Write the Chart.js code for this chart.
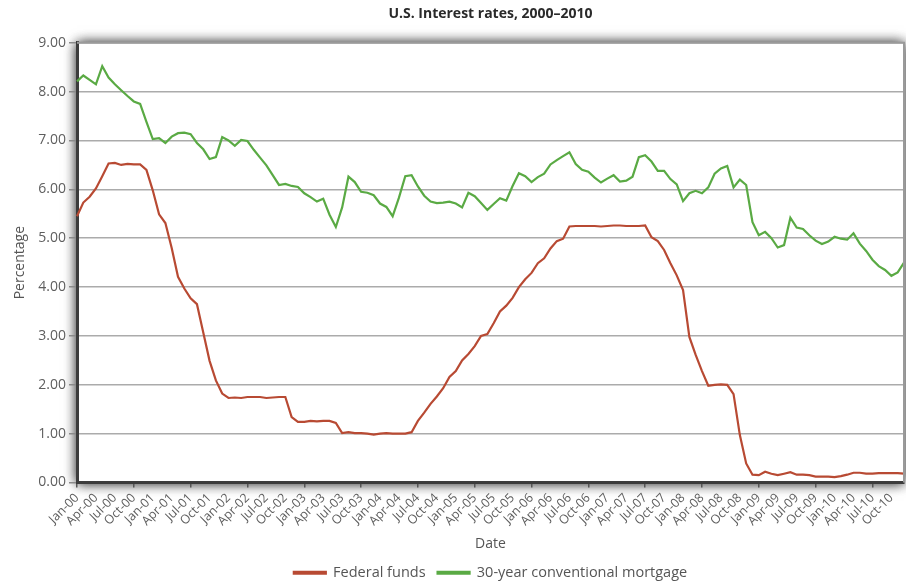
<!DOCTYPE html>
<html lang="en">
<head>
  <meta charset="UTF-8" />
  <title>U.S. Interest rates, 2000–2010</title>
  <script src="https://cdn.jsdelivr.net/npm/chart.js"></script>
  <style>
    html, body { margin: 0; padding: 0; background: #fff; }
    .chart-container { width: 906px; height: 582px; }
  </style>
</head>
<body>
  <div class="chart-container"><canvas id="rateChart"></canvas></div>

  <script>
    // monthly categories Jan-00 .. Dec-10
    const monthNames = ['Jan', 'Feb', 'Mar', 'Apr', 'May', 'Jun', 'Jul', 'Aug', 'Sep', 'Oct', 'Nov', 'Dec'];
    const yearNames = ['00', '01', '02', '03', '04', '05', '06', '07', '08', '09', '10'];
    const labels = [];
    yearNames.forEach(y => monthNames.forEach(m => labels.push(m + '-' + y)));

    const yTicks = [0, 1, 2, 3, 4, 5, 6, 7, 8, 9];

    const fedFunds = [
      5.45, 5.73, 5.85, 6.02, 6.27, 6.53, 6.54, 6.50, 6.52, 6.51, 6.51, 6.40,
      5.98, 5.49, 5.31, 4.80, 4.21, 3.97, 3.77, 3.65, 3.07, 2.49, 2.09, 1.82,
      1.73, 1.74, 1.73, 1.75, 1.75, 1.75, 1.73, 1.74, 1.75, 1.75, 1.34, 1.24,
      1.24, 1.26, 1.25, 1.26, 1.26, 1.22, 1.01, 1.03, 1.01, 1.01, 1.00, 0.98,
      1.00, 1.01, 1.00, 1.00, 1.00, 1.03, 1.26, 1.43, 1.61, 1.76, 1.93, 2.16,
      2.28, 2.50, 2.63, 2.79, 3.00, 3.04, 3.26, 3.50, 3.62, 3.78, 4.00, 4.16,
      4.29, 4.49, 4.59, 4.79, 4.94, 4.99, 5.24, 5.25, 5.25, 5.25, 5.25, 5.24,
      5.25, 5.26, 5.26, 5.25, 5.25, 5.25, 5.26, 5.02, 4.94, 4.76, 4.49, 4.24,
      3.94, 2.98, 2.61, 2.28, 1.98, 2.00, 2.01, 2.00, 1.81, 0.97, 0.39, 0.16,
      0.15, 0.22, 0.18, 0.15, 0.18, 0.21, 0.16, 0.16, 0.15, 0.12, 0.12, 0.12,
      0.11, 0.13, 0.16, 0.20, 0.20, 0.18, 0.18, 0.19, 0.19, 0.19, 0.19, 0.18
    ];

    const mortgage30 = [
      8.21, 8.33, 8.24, 8.15, 8.52, 8.29, 8.15, 8.03, 7.91, 7.80, 7.75, 7.38,
      7.03, 7.05, 6.95, 7.08, 7.15, 7.16, 7.13, 6.95, 6.82, 6.62, 6.66, 7.07,
      7.00, 6.89, 7.01, 6.99, 6.81, 6.65, 6.49, 6.29, 6.09, 6.11, 6.07, 6.05,
      5.92, 5.84, 5.75, 5.81, 5.48, 5.23, 5.63, 6.26, 6.15, 5.95, 5.93, 5.88,
      5.71, 5.64, 5.45, 5.83, 6.27, 6.29, 6.06, 5.87, 5.75, 5.72, 5.73, 5.75,
      5.71, 5.63, 5.93, 5.86, 5.72, 5.58, 5.70, 5.82, 5.77, 6.07, 6.33, 6.27,
      6.15, 6.25, 6.32, 6.51, 6.60, 6.68, 6.76, 6.52, 6.40, 6.36, 6.24, 6.14,
      6.22, 6.29, 6.16, 6.18, 6.26, 6.66, 6.70, 6.57, 6.38, 6.38, 6.21, 6.10,
      5.76, 5.92, 5.97, 5.92, 6.04, 6.32, 6.43, 6.48, 6.04, 6.20, 6.09, 5.33,
      5.06, 5.13, 5.00, 4.81, 4.86, 5.42, 5.22, 5.19, 5.06, 4.95, 4.88, 4.93,
      5.03, 4.99, 4.97, 5.10, 4.89, 4.74, 4.56, 4.43, 4.35, 4.23, 4.30, 4.50
    ];

    const FONT = '"Open Sans", "Noto Sans", sans-serif';

    // white plot panel with a soft shadow round it
    const panelShadow = {
      id: 'panelShadow',
      beforeDraw(chart) {
        const { ctx, chartArea: a } = chart;
        ctx.save();
        ctx.shadowColor = 'rgba(0, 0, 0, 0.6)';
        ctx.shadowBlur = 12;
        ctx.fillStyle = '#fff';
        ctx.fillRect(a.left, a.top, a.right - a.left, a.bottom - a.top);
        ctx.fillRect(a.left, a.top, a.right - a.left, a.bottom - a.top);
        ctx.restore();
      },
      afterDraw(chart) {
        const { ctx, chartArea: a } = chart;
        ctx.save();
        ctx.strokeStyle = '#9a9a9a';
        ctx.lineWidth = 2;
        ctx.beginPath();
        ctx.moveTo(a.left, a.top);
        ctx.lineTo(a.right, a.top);
        ctx.lineTo(a.right, a.bottom);
        ctx.stroke();
        ctx.restore();
      }
    };

    const ctx = document.getElementById('rateChart').getContext('2d');
    new Chart(ctx, {
      type: 'line',
      data: {
        labels: labels,
        datasets: [{
          label: 'Federal funds',
          data: fedFunds,
          borderColor: '#b84a33',
          backgroundColor: '#b84a33',
          borderWidth: 2.2,
          pointRadius: 0,
          tension: 0
        }, {
          label: '30-year conventional mortgage',
          data: mortgage30,
          borderColor: '#5aaa44',
          backgroundColor: '#5aaa44',
          borderWidth: 2.2,
          pointRadius: 0,
          tension: 0
        }]
      },
      options: {
        responsive: true,
        maintainAspectRatio: false,
        animation: false,
        layout: { padding: { top: 0, right: 2, left: 0, bottom: -8 } },
        scales: {
          x: {
            offset: false,
            grid: {
              drawOnChartArea: false,
              tickLength: 5,
              color: c => c.index % 3 === 0 ? '#555' : 'rgba(0,0,0,0)',
              lineWidth: c => c.index % 3 === 0 ? 1.5 : 0
            },
            border: { color: '#3c3c3c', width: 3 },
            ticks: {
              autoSkip: false,
              maxRotation: 45,
              minRotation: 45,
              padding: 3,
              color: '#5e5e5e',
              font: { family: FONT, size: 12.5 },
              callback: (v, i) => i % 3 === 0 ? labels[i] : null
            },
            title: {
              display: true,
              text: 'Date',
              color: '#555',
              font: { family: FONT, size: 14 },
              padding: { top: 1, bottom: 1 }
            },
            afterFit: s => { s.height = 71; }
          },
          y: {
            min: yTicks[0],
            max: yTicks[yTicks.length - 1],
            grid: { color: '#ababab', lineWidth: 1.5, tickLength: 8, tickColor: '#8a8a8a' },
            border: { color: '#3c3c3c', width: 3 },
            ticks: {
              stepSize: 1,
              padding: 3,
              color: '#5e5e5e',
              font: { family: FONT, size: 14 },
              callback: v => v.toFixed(2)
            },
            title: {
              display: true,
              text: 'Percentage',
              color: '#555',
              font: { family: FONT, size: 14 },
              padding: { top: 12, bottom: 12 }
            },
            afterFit: s => { s.width = 77; }
          }
        },
        plugins: {
          title: {
            display: true,
            text: 'U.S. Interest rates, 2000–2010',
            fullSize: false,
            color: '#2a2a2a',
            font: { family: FONT, size: 14, weight: 'bold' },
            padding: { top: 6, bottom: 20 }
          },
          legend: {
            position: 'bottom',
            fullSize: false,
            labels: {
              boxWidth: 32,
              boxHeight: 2,
              padding: 12,
              color: '#555',
              font: { family: FONT, size: 14.5 }
            }
          },
          tooltip: { enabled: false }
        }
      },
      plugins: [panelShadow]
    });
  </script>
</body>
</html>
